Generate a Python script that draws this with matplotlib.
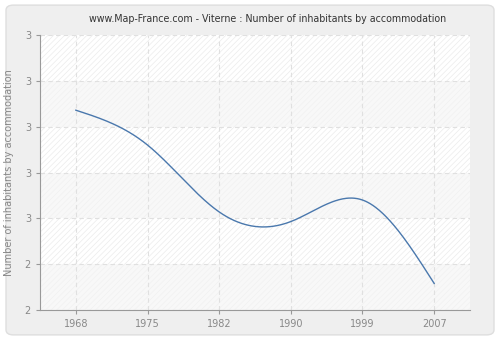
import numpy as np
import matplotlib
matplotlib.use("Agg")
import matplotlib.pyplot as plt
from matplotlib.patches import FancyBboxPatch

years = ["1968", "1975", "1982", "1990", "1999", "2007"]
values = [2.836, 2.760, 2.614, 2.593, 2.640, 2.458]
yticks = [2.4, 2.5, 2.6, 2.7, 2.8, 2.9, 3.0]
ytick_labels = ["2", "2", "3", "3", "3", "3", "3"]
title = "www.Map-France.com - Viterne : Number of inhabitants by accommodation"
ylabel = "Number of inhabitants by accommodation"


def natural_spline(x, y, xs):
    x = np.asarray(x, float); y = np.asarray(y, float)
    n = len(x)
    h = np.diff(x)
    A = np.zeros((n, n)); r = np.zeros(n)
    A[0, 0] = 1; A[-1, -1] = 1
    for i in range(1, n - 1):
        A[i, i - 1] = h[i - 1]
        A[i, i] = 2 * (h[i - 1] + h[i])
        A[i, i + 1] = h[i]
        r[i] = 3 * ((y[i + 1] - y[i]) / h[i] - (y[i] - y[i - 1]) / h[i - 1])
    c = np.linalg.solve(A, r)
    b = np.zeros(n - 1); d = np.zeros(n - 1)
    for i in range(n - 1):
        b[i] = (y[i + 1] - y[i]) / h[i] - h[i] * (2 * c[i] + c[i + 1]) / 3
        d[i] = (c[i + 1] - c[i]) / (3 * h[i])
    idx = np.clip(np.searchsorted(x, xs) - 1, 0, n - 2)
    dx = xs - x[idx]
    return y[idx] + b[idx] * dx + c[idx] * dx ** 2 + d[idx] * dx ** 3


plt.rcParams['hatch.linewidth'] = 0.5
fig = plt.figure(figsize=(5, 3.4), dpi=100, facecolor="white")
bg = FancyBboxPatch((0.012, 0.015), 0.976, 0.97, boxstyle="round,pad=0,rounding_size=0.015",
                    transform=fig.transFigure, facecolor="#efefef", edgecolor="#dedede",
                    linewidth=1, zorder=-10)
fig.patches.append(bg)

ax = fig.add_axes([0.08, 0.0882, 0.86, 0.8088])
ax.set_facecolor("white")
xpos = np.arange(len(years))
ax.set_xlim(-0.5, len(years) - 0.5)
ax.set_ylim(yticks[0], yticks[-1])

for i in range(len(yticks) - 1):
    lo, hi = yticks[i], yticks[i + 1]
    if (len(yticks) - 2 - i) % 2 == 0:
        ax.axhspan(lo, hi, facecolor="white", edgecolor="#ebebeb", hatch="//////", linewidth=0, zorder=0)
    else:
        ax.axhspan(lo, hi, facecolor="#f8f8f8", edgecolor="#f1f1f1", hatch="//////", linewidth=0, zorder=0)

ax.set_yticks(yticks)
ax.set_yticklabels(ytick_labels)
ax.set_xticks(xpos)
ax.set_xticklabels(years)
ax.grid(True, color="#e0e0e0", linestyle=(0, (4, 3)), linewidth=0.8, zorder=1)

xs = np.linspace(0, len(years) - 1, 400)
ax.plot(xs, natural_spline(xpos, values, xs), color="#4a78ad", linewidth=1.0, zorder=3)

for s in ["top", "right"]:
    ax.spines[s].set_visible(False)
for s in ["left", "bottom"]:
    ax.spines[s].set_color("#999999")
ax.tick_params(axis="both", colors="#999999", labelcolor="#888888", labelsize=7, length=3, width=0.8)
ax.set_ylabel(ylabel, color="#888888", fontsize=7, labelpad=8)
fig.text(0.535, 0.945, title, ha="center", va="center", fontsize=6.85, color="#333333")

fig.savefig("out.png", dpi=100, facecolor="white")
